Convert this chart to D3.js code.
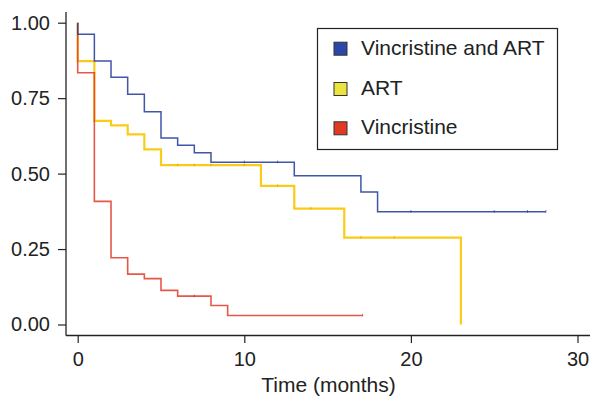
<!DOCTYPE html>
<html>
<head>
<meta charset="utf-8">
<script src="https://cdn.jsdelivr.net/npm/d3@7"></script>
<style>
  body { margin: 0; background: #fff; }
  svg { display: block; }
  text { font-family: "Liberation Sans", Arial, Helvetica, sans-serif; fill: #222; }
</style>
</head>
<body>
<svg id="chart" width="594" height="399"></svg>
<script>
// ---- data ----
const seriesNames = ["Vincristine and ART", "ART", "Vincristine"];
const lineColors = ["#2b44a0", "#f8c600", "#e33a28"];
const swatchColors = ["#2b48a8", "#ece43a", "#e03a25"];

const blueTimes = [0, 1, 2, 3, 4, 5, 6, 7, 8, 13, 17, 18];
const blueSurv  = [0.962, 0.873, 0.819, 0.763, 0.705, 0.618, 0.594, 0.569, 0.538, 0.493, 0.439, 0.374];
const blueEnd = 28.1;
const blueCensor = [10, 12, 20, 25, 27, 28.1];

const yellowTimes = [0, 1, 2, 3, 4, 5, 11, 13, 16, 23];
const yellowSurv  = [0.873, 0.675, 0.66, 0.63, 0.58, 0.528, 0.459, 0.384, 0.288, 0.0];
const yellowEnd = 23;
const yellowCensor = [6, 7, 8, 10, 12, 14, 17, 19];

const redTimes = [0, 1, 2, 3, 4, 5, 6, 8, 9];
const redSurv  = [0.834, 0.408, 0.221, 0.167, 0.152, 0.113, 0.094, 0.063, 0.030];
const redEnd = 17.1;
const redCensor = [7, 17.1];

const xTicks = [0, 10, 20, 30];
const yTicks = [0, 0.25, 0.5, 0.75, 1.0];
const xTitle = "Time (months)";

// ---- chart ----
const svg = d3.select("#chart");
const x = d3.scaleLinear().domain([0, 30]).range([77.7, 577.5]);
const y = d3.scaleLinear().domain([0, 1]).range([324.5, 22.7]);

// axes
const axisX = 66, axisY = 335.5;
svg.append("line").attr("x1", axisX).attr("x2", axisX).attr("y1", 12).attr("y2", axisY)
  .attr("stroke", "#222").attr("stroke-width", 1.3);
svg.append("line").attr("x1", axisX).attr("x2", 590).attr("y1", axisY).attr("y2", axisY)
  .attr("stroke", "#222").attr("stroke-width", 1.3);

const yAxis = d3.axisLeft(y).tickValues(yTicks).tickFormat(d3.format(".2f")).tickSize(8).tickPadding(8);
const gy = svg.append("g").attr("transform", `translate(${axisX},0)`).call(yAxis);
gy.select(".domain").remove();
gy.selectAll(".tick line").attr("stroke", "#222").attr("stroke-width", 1.2);
gy.selectAll(".tick text").style("font-size", "20px").style("fill", "#222");

const xAxis = d3.axisBottom(x).tickValues(xTicks).tickFormat(d3.format("d")).tickSize(7.5).tickPadding(8.5);
const gx = svg.append("g").attr("transform", `translate(0,${axisY})`).call(xAxis);
gx.select(".domain").remove();
gx.selectAll(".tick line").attr("stroke", "#222").attr("stroke-width", 1.2);
gx.selectAll(".tick text").style("font-size", "20px").style("fill", "#222");

svg.append("text").attr("x", 328.5).attr("y", 392)
  .attr("text-anchor", "middle").style("font-size", "21px").text(xTitle);

// curves
function pts(times, surv, end) {
  const p = [[0, 1]];
  times.forEach((t, i) => p.push([t, surv[i]]));
  p.push([end, surv[surv.length - 1]]);
  return p;
}
function survAt(times, surv, t) {
  let s = 1;
  times.forEach((tt, i) => { if (tt <= t) s = surv[i]; });
  return s;
}
const line = d3.line().x(d => x(d[0])).y(d => y(d[1])).curve(d3.curveStepAfter);

const series = [
  {times: yellowTimes, surv: yellowSurv, end: yellowEnd, censor: yellowCensor, color: lineColors[1], w: 2.2, op: 0.9},
  {times: redTimes, surv: redSurv, end: redEnd, censor: redCensor, color: lineColors[2], w: 1.6, op: 0.85},
  {times: blueTimes, surv: blueSurv, end: blueEnd, censor: blueCensor, color: lineColors[0], w: 1.5, op: 0.9}
];
series.forEach(s => {
  svg.append("path").datum(pts(s.times, s.surv, s.end)).attr("d", line)
    .attr("fill", "none").attr("stroke", s.color).attr("stroke-width", s.w)
    .attr("stroke-opacity", s.op);
  svg.selectAll(null).data(s.censor).enter().append("line")
    .attr("x1", d => x(d)).attr("x2", d => x(d))
    .attr("y1", d => y(survAt(s.times, s.surv, d)) - 1.5)
    .attr("y2", d => y(survAt(s.times, s.surv, d)) + 1)
    .attr("stroke", d3.color(s.color).darker(0.6)).attr("stroke-width", 1)
    .attr("stroke-opacity", 0.7);
});

// legend
const lg = svg.append("g");
lg.append("rect").attr("x", 317.5).attr("y", 28.5).attr("width", 240).attr("height", 121)
  .attr("fill", "#fff").attr("stroke", "#222").attr("stroke-width", 1.2);
const legY = [48.7, 89, 128.3];
seriesNames.forEach((n, i) => {
  lg.append("rect").attr("x", 334).attr("y", legY[i] - 6.5).attr("width", 13).attr("height", 13)
    .attr("fill", swatchColors[i]).attr("stroke", "#333").attr("stroke-width", 1);
  lg.append("text").attr("x", 361).attr("y", legY[i] + 5.8).style("font-size", "21px").text(n);
});
</script>
</body>
</html>
